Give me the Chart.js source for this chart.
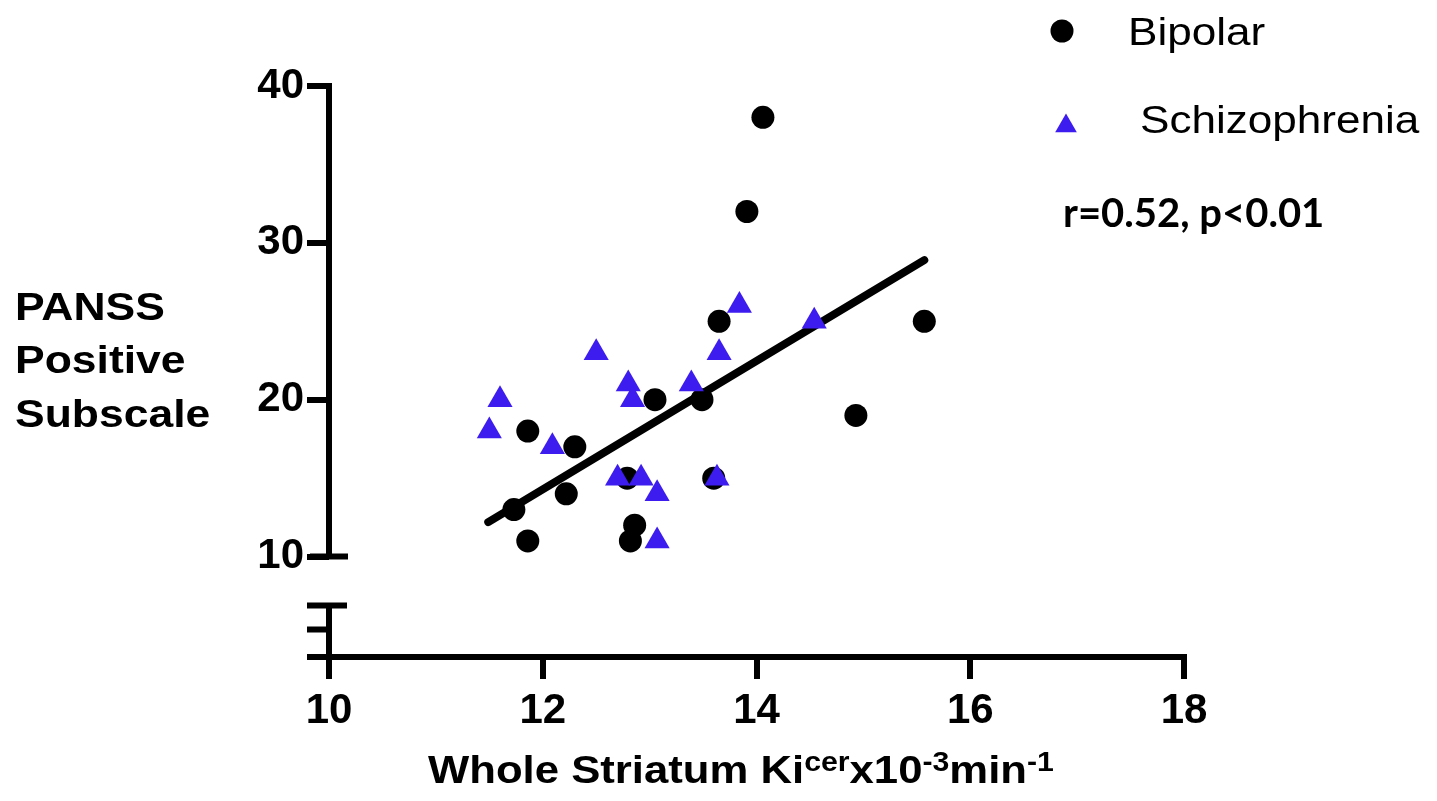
<!DOCTYPE html>
<html>
<head>
<meta charset="utf-8">
<script src="https://cdn.jsdelivr.net/npm/chart.js@4.4.1/dist/chart.umd.min.js"></script>
<style>
  html, body { margin: 0; padding: 0; background: #fff; }
  #wrap { width: 1437px; height: 801px; position: relative; }
</style>
</head>
<body>
<div id="wrap"><canvas id="kiChart"></canvas></div>
<script>
// values
const bipolarKi    = [14.06, 13.91, 13.65, 15.57, 14.93, 13.05, 13.49, 11.86, 12.30, 12.79, 13.60, 12.22, 11.73, 11.86, 12.86, 12.82];
const bipolarPanss = [38, 32, 25, 25, 19, 20, 20, 18, 17, 15, 15, 14, 13, 11, 12, 11];
const schizoKi     = [13.84, 12.50, 13.65, 12.80, 12.84, 13.39, 11.60, 11.50, 12.09, 12.70, 12.92, 13.63, 13.07, 13.07, 14.54];
const schizoPanss  = [26, 23, 23, 21, 20, 21, 20, 18, 17, 15, 15, 15, 14, 11, 25];
const fitKi        = [11.49, 15.57];
const fitPanss     = [12.2, 28.9];
const xTicks = [10, 12, 14, 16, 18];
const yTicks = [10, 20, 30, 40];
const statText = 'r=0.52, p<0.01';

const BLUE = '#3c1cef';
const SANS = "'Liberation Sans', Arial, sans-serif";

function toPoints(xs, ys) {
    return xs.map((v, i) => ({ x: v, y: ys[i] }));
}

// draw text stretched horizontally, returns drawn width
function wideText(ctx, text, x, y, font, sx) {
    ctx.save();
    ctx.font = font;
    const w = ctx.measureText(text).width * sx;
    ctx.translate(x, y);
    ctx.scale(sx, 1);
    ctx.fillText(text, 0, 0);
    ctx.restore();
    return w;
}

// axis with the GraphPad style break, titles and legend
const decorations = {
    id: 'decorations',
    afterDraw(chart) {
        const { ctx, scales: { x, y } } = chart;
        const x0 = x.getPixelForValue(xTicks[0]);
        const yb = y.bottom;
        const breakTop = y.getPixelForValue(6.88);
        const breakMid = y.getPixelForValue(5.35);

        ctx.save();
        ctx.strokeStyle = '#000';
        ctx.lineWidth = 6;
        ctx.beginPath();
        ctx.moveTo(x0, y.getPixelForValue(40) - 3);
        ctx.lineTo(x0, y.getPixelForValue(10));
        ctx.moveTo(x0 - 19, y.getPixelForValue(10));
        ctx.lineTo(x0 + 19, y.getPixelForValue(10));
        ctx.moveTo(x0, breakTop);
        ctx.lineTo(x0, yb + 22);
        ctx.moveTo(x0 - 22, breakTop);
        ctx.lineTo(x0 + 18, breakTop);
        ctx.moveTo(x0 - 22, breakMid);
        ctx.lineTo(x0, breakMid);
        ctx.moveTo(x0 - 22, yb);
        ctx.lineTo(x0, yb);
        ctx.stroke();

        ctx.fillStyle = '#000';
        ctx.textBaseline = 'alphabetic';
        ctx.textAlign = 'left';

        // y title
        const yFont = 'bold 39px ' + SANS;
        wideText(ctx, 'PANSS', 15, 320, yFont, 1.14);
        wideText(ctx, 'Positive', 15, 373, yFont, 1.14);
        wideText(ctx, 'Subscale', 15, 427, yFont, 1.14);

        // x title with superscripts
        const big = 'bold 39px ' + SANS, small = 'bold 27px ' + SANS;
        const parts = [['Whole Striatum Ki', 0], ['cer', 1], ['x10', 0], ['-3', 1], ['min', 0], ['-1', 1]];
        let tx = 428;
        parts.forEach(([t, sup]) => {
            tx += wideText(ctx, t, tx, sup ? 771 : 783, sup ? small : big, 1.12);
        });

        // legend
        chart.data.datasets.slice(0, 2).forEach((ds, i) => {
            const ly = i === 0 ? 31 : 126;
            ctx.fillStyle = ds.backgroundColor;
            Chart.helpers.drawPoint(ctx, { pointStyle: ds.pointStyle, radius: i === 0 ? 11.5 : 12.5, rotation: 0, borderWidth: 0 }, i === 0 ? 1062 : 1066, ly);
            ctx.fillStyle = '#000';
            wideText(ctx, ds.label, i === 0 ? 1128 : 1140, i === 0 ? 45 : 133, '38px ' + SANS, 1.16);
        });

        ctx.fillStyle = '#000';
        wideText(ctx, statText, 1063, 227, "bold 40px Lato, 'Open Sans', sans-serif", 1.0);
        ctx.restore();
    }
};

const ctx = document.getElementById('kiChart').getContext('2d');
const kiChart = new Chart(ctx, {
    type: 'scatter',
    data: {
        datasets: [{
            label: 'Bipolar',
            data: toPoints(bipolarKi, bipolarPanss),
            pointStyle: 'circle',
            pointRadius: 11.5,
            backgroundColor: '#000',
            borderWidth: 0,
            order: 2
        }, {
            label: 'Schizophrenia',
            data: toPoints(schizoKi, schizoPanss),
            pointStyle: 'triangle',
            pointRadius: 14.5,
            backgroundColor: BLUE,
            borderWidth: 0,
            order: 1
        }, {
            type: 'line',
            label: 'fit',
            data: toPoints(fitKi, fitPanss),
            borderColor: '#000',
            borderWidth: 8,
            borderCapStyle: 'round',
            pointRadius: 0,
            showLine: true,
            order: 3
        }]
    },
    options: {
        responsive: true,
        maintainAspectRatio: false,
        animation: false,
        layout: { padding: { top: 86, right: 253, left: 0, bottom: 0 } },
        plugins: {
            legend: { display: false },
            tooltip: { enabled: false }
        },
        scales: {
            x: {
                type: 'linear',
                min: 10,
                max: 18,
                afterBuildTicks: (axis) => { axis.ticks = xTicks.map(v => ({ value: v })); },
                afterFit: (axis) => { axis.height = 144; },
                border: { display: true, color: '#000', width: 6 },
                grid: { drawOnChartArea: false, drawTicks: true, tickLength: 22, lineWidth: 6, color: '#000' },
                ticks: { color: '#000', padding: 7, font: { family: SANS, size: 42, weight: 'bold' } }
            },
            y: {
                type: 'linear',
                min: 3.6,
                max: 40,
                afterBuildTicks: (axis) => { axis.ticks = yTicks.map(v => ({ value: v })); },
                afterFit: (axis) => { axis.width = 329; },
                border: { display: false },
                grid: { drawOnChartArea: false, drawTicks: true, tickLength: 22, lineWidth: 6, color: '#000' },
                ticks: { color: '#000', padding: 3, font: { family: SANS, size: 42, weight: 'bold' } }
            }
        }
    },
    plugins: [decorations]
});
</script>
</body>
</html>
